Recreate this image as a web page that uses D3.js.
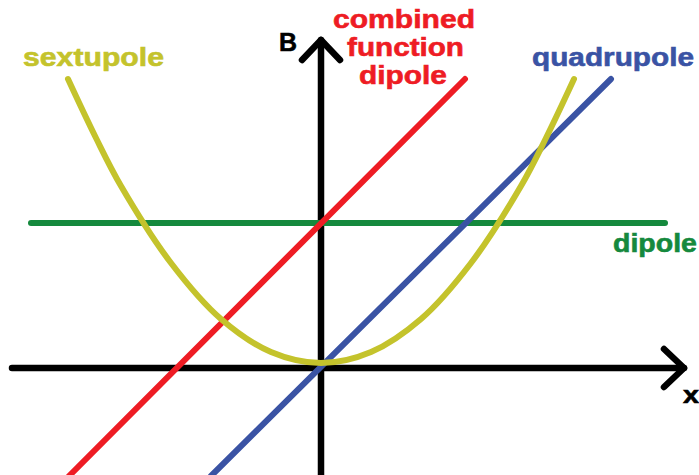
<!DOCTYPE html>
<html>
<head>
<meta charset="utf-8">
<script src="https://cdn.jsdelivr.net/npm/d3@7"></script>
<style>
  body { margin: 0; background: #fff; }
  svg { display: block; }
  text { font-family: "Liberation Sans", Arial, sans-serif; font-weight: bold; }
</style>
</head>
<body>
<script>
// DATA (field B against position x, in arbitrary units)
const dipoleX = [-2.90, 3.44]
const dipoleB = [1.45, 1.45]

const combinedX = [-2.52, 1.44]
const combinedB = [-1.08, 2.89]

const quadX = [-1.10, 2.90]
const quadB = [-1.08, 2.89]

const sextX = [-2.53, -2.25, -2.0, -1.5, -1.0, -0.5, 0, 0.5, 1.0, 1.5, 2.0, 2.25, 2.53]
const sextB = [2.89, 2.30, 1.82, 1.05, 0.49, 0.16, 0.05, 0.16, 0.49, 1.05, 1.82, 2.30, 2.89]

const xAxisRange = [-3.09, 3.63]
const yAxisRange = [-1.10, 3.28]

//SIZES
const svgwidth = 699
const svgheight = 475

const svg = d3.select("body").append("svg")
  .attr("width", svgwidth)
  .attr("height", svgheight)

//SCALES (origin at 321,368 ; 100px per unit)
const X = d3.scaleLinear().domain([-3.21, 3.78]).range([0, svgwidth])
const Y = d3.scaleLinear().domain([3.68, -1.07]).range([0, svgheight])

const zip = (xs, ys) => xs.map((x, i) => ({x: x, b: ys[i]}))
const line = d3.line().x(d => X(d.x)).y(d => Y(d.b))

//AXES
const axes = svg.append("g").attr("fill", "none").attr("stroke", "#000")
  .attr("stroke-width", 6.5).attr("stroke-linecap", "round").attr("stroke-linejoin", "round")

axes.append("path")
  .attr("d", line(zip(xAxisRange, [0, 0])))
axes.append("path")
  .attr("d", d3.line()([[X(xAxisRange[1]) - 20, Y(0) - 19], [X(xAxisRange[1]), Y(0)], [X(xAxisRange[1]) - 20, Y(0) + 19]]))

axes.append("path")
  .attr("d", line(zip([0, 0], yAxisRange)))
axes.append("path")
  .attr("d", d3.line()([[X(0) - 19, Y(yAxisRange[1]) + 20], [X(0), Y(yAxisRange[1])], [X(0) + 19, Y(yAxisRange[1]) + 20]]))

//CURVES
const curves = [
  {data: zip(dipoleX, dipoleB), color: "#15893d"},
  {data: zip(combinedX, combinedB), color: "#ee1c24"},
  {data: zip(quadX, quadB), color: "#3a53a4"},
  {data: zip(sextX, sextB), color: "#c4c32c", smooth: true}
]

svg.append("g").selectAll(".curve").data(curves)
  .enter().append("path").classed("curve", true)
  .attr("d", d => d.smooth ? line.curve(d3.curveCatmullRom)(d.data) : line.curve(d3.curveLinear)(d.data))
  .attr("fill", "none")
  .attr("stroke", d => d.color)
  .attr("stroke-width", 6)
  .attr("stroke-linecap", "round")

//LABELS
const labels = [
  {t: "sextupole", x: 23, y: 66, w: 141, c: "#c4c32c"},
  {t: "B", x: 279, y: 51, w: 18, c: "#000"},
  {t: "combined", x: 333, y: 28, w: 142, c: "#ee1c24"},
  {t: "function", x: 347, y: 56, w: 117, c: "#ee1c24"},
  {t: "dipole", x: 359, y: 84, w: 88, c: "#ee1c24"},
  {t: "quadrupole", x: 532, y: 66, w: 162, c: "#3a53a4"},
  {t: "dipole", x: 613, y: 252, w: 84, c: "#15893d"},
  {t: "x", x: 683, y: 403, w: 16, c: "#000", size: 24}
]

svg.append("g").selectAll("text").data(labels)
  .enter().append("text")
  .attr("x", d => d.x)
  .attr("y", d => d.y)
  .attr("textLength", d => d.w)
  .attr("lengthAdjust", "spacingAndGlyphs")
  .style("font-size", d => (d.size || 26) + "px")
  .attr("stroke", d => d.c)
  .attr("stroke-width", 0.6)
  .attr("fill", d => d.c)
  .text(d => d.t)
</script>
</body>
</html>
